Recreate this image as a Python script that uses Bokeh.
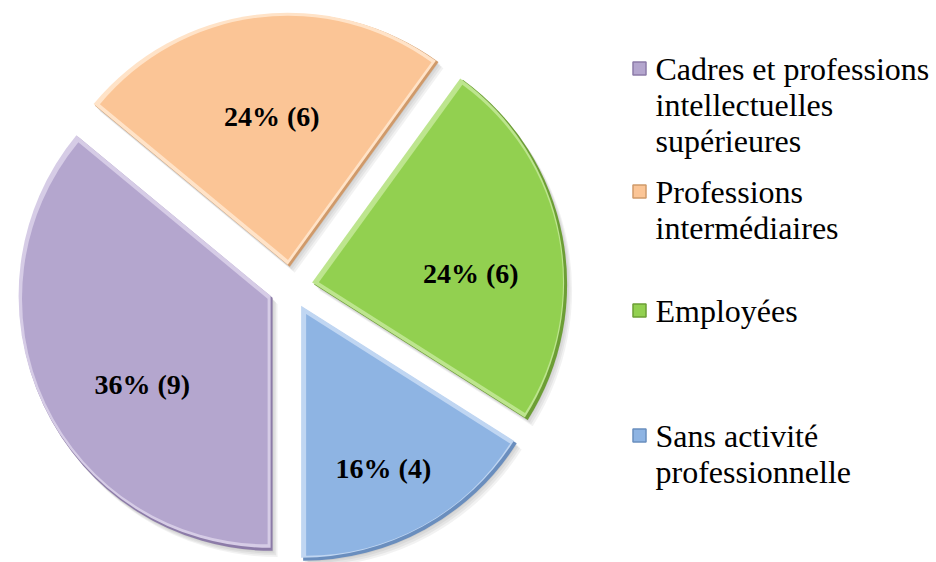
import math
from bokeh.plotting import figure
from bokeh.core.properties import value
from bokeh.embed import file_html
from bokeh.resources import INLINE

# ---- data ----
categories = ["Cadres et professions intellectuelles supérieures",
              "Professions intermédiaires",
              "Employées",
              "Sans activité professionnelle"]
legend_lines = [["Cadres et professions", "intellectuelles", "supérieures"],
                ["Professions", "intermédiaires"],
                ["Employées"],
                ["Sans activité", "professionnelle"]]
counts = [9, 6, 6, 4]

# ---- styles / layout ----
colors = ["#B4A6CE", "#FBC596", "#92D050", "#8EB4E3"]
dark_colors = ["#8C7BA8", "#D09A6A", "#6C9E35", "#6A8EBE"]
light_colors = ["#D6CCE6", "#FFE3C8", "#BDE58E", "#C0D6F2"]
label_radius = [156, 150, 158, 181]
label_dtheta = [-8.8, 0.7, 7.2, 2.1]
legend_y = [494, 371, 252, 127]   # middle of first line of each entry (data units)

W, H = 936, 562
p = figure(width=W, height=H, x_range=(0, 936), y_range=(0, 562),
           output_backend="svg", toolbar_location=None, min_border=0,
           x_axis_location=None, y_axis_location=None)
p.grid.visible = False
p.outline_line_color = None
p.background_fill_color = "white"
p.border_fill_color = "white"

cx, cy, R, d, e = 291, 275, 253, 22, 4
total = sum(counts)
cum = 0
slices = []
for i, n in enumerate(counts):
    th0 = 180 + 360 * cum / total
    th1 = th0 + 360 * n / total
    thm = math.radians((th0 + th1) / 2)
    ox = cx + d * math.sin(thm)
    oy = cy + d * math.cos(thm)
    slices.append((ox, oy, th0, th1, thm))
    cum += n

# soft shadows
for (ox, oy, th0, th1, thm) in slices:
    for k in range(1, 5):
        p.wedge(x=ox + 1.5 * k, y=oy - 1.8 * k, radius=R,
                start_angle=math.radians(90 - th0), end_angle=math.radians(90 - th1),
                direction="clock", fill_color="black", fill_alpha=0.05, line_color=None)

for i, (ox, oy, th0, th1, thm) in enumerate(slices):
    sa = math.radians(90 - th0)
    ea = math.radians(90 - th1)
    p.wedge(x=ox + 1, y=oy - 1, radius=R, start_angle=sa, end_angle=ea, direction="clock",
            fill_color=dark_colors[i], line_color=None)
    p.wedge(x=ox - 1, y=oy + 1, radius=R - 1, start_angle=sa, end_angle=ea, direction="clock",
            fill_color=light_colors[i], line_color=None)
    half = math.radians(th1 - th0) / 2
    s = e / math.sin(half)
    ix = ox + s * math.sin(thm)
    iy = oy + s * math.cos(thm)
    p.wedge(x=ix, y=iy, radius=R - e - s + 1, start_angle=sa, end_angle=ea, direction="clock",
            fill_color=colors[i], line_color=None)

    pct = round(100 * counts[i] / total)
    la = thm + math.radians(label_dtheta[i])
    lx = ox + label_radius[i] * math.sin(la)
    ly = oy + label_radius[i] * math.cos(la)
    p.text(x=[lx], y=[ly], text=[f"{pct}% ({counts[i]})"],
           text_font=value("Liberation Serif"), text_font_size="28px",
           text_font_style="bold", text_color="black",
           text_align="center", text_baseline="middle")

# legend
leg_x, line_h = 639, 36
for i, lines in enumerate(legend_lines):
    y0 = legend_y[i]
    p.scatter(x=[leg_x], y=[y0], marker="square", size=13,
              fill_color=colors[i], line_color=dark_colors[i], line_width=1.5)
    for j, t in enumerate(lines):
        p.text(x=[655], y=[y0 - j * line_h], text=[t],
               text_font=value("Liberation Serif"), text_font_size="32px",
               text_color="black", text_align="left", text_baseline="middle")

open("out.html", "w").write(file_html(p, INLINE))
